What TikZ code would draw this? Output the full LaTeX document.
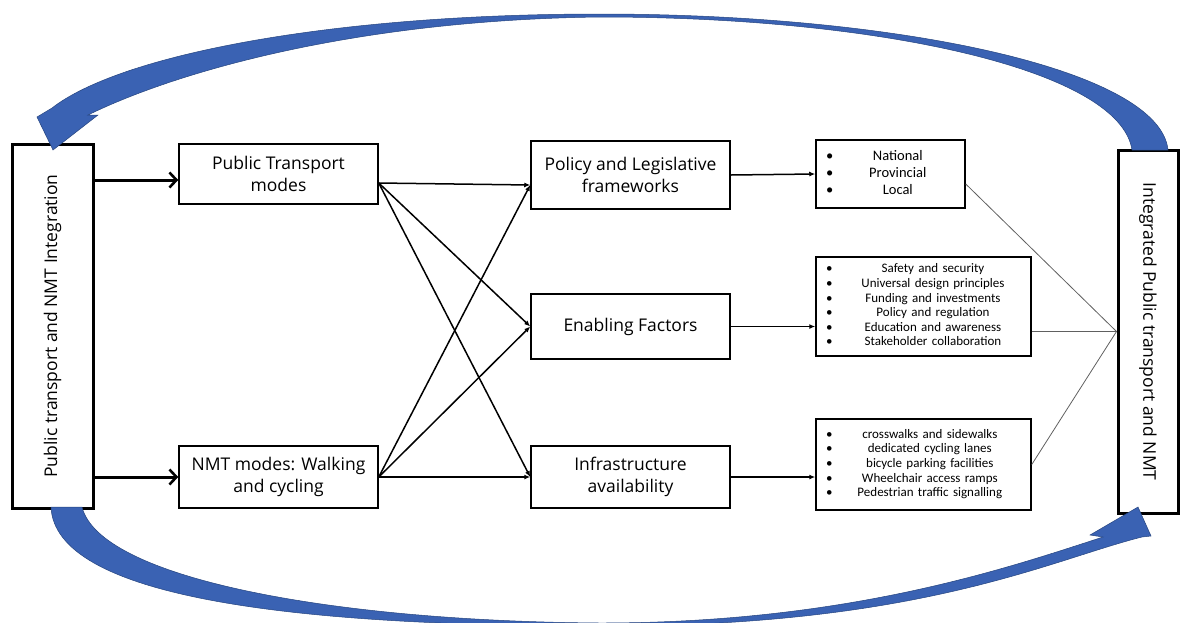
\documentclass[tikz,border=0pt]{standalone}
\usepackage{fontspec}
\setmainfont{Open Sans}
\newfontfamily\listfont{Carlito}
\usetikzlibrary{arrows.meta,positioning}

\definecolor{loopblue}{HTML}{3A62B3}
\definecolor{loopedge}{HTML}{26457F}

\tikzset{
	mainbox/.style={draw, line width=1.5pt, minimum width=199pt, align=center, inner sep=2pt, font=\fontsize{17.5}{22}\selectfont},
	sidebox/.style={draw, line width=3pt, inner sep=0pt, font=\fontsize{17.5}{20}\selectfont},
	listbox/.style={draw, line width=1.5pt, inner xsep=10pt, inner ysep=0pt, align=left, font=\listfont\fontsize{13}{14.6}\selectfont},
	bigarrow/.style={line width=3pt, -{Straight Barb[length=7pt,width=15pt,line width=2.6pt]}},
	link/.style={line width=1.5pt, -{Latex[length=6pt,width=5pt]}},
	feed/.style={draw=gray!75!black, line width=0.8pt},
	curvearrow/.style={fill=loopblue, draw=loopedge, line width=0.5pt},
}

\begin{document}
\begin{tikzpicture}[x=1pt, y=-1pt]
		\useasboundingbox (0,0) rectangle (1180,622);
		% outer boxes
		\node[sidebox, minimum width=81pt, minimum height=364pt] (intl) at (52.5,326) {\rotatebox{90}{Public transport and NMT Integration}};
		\node[sidebox, minimum width=60pt, minimum height=363pt] (intr) at (1148,331.5) {\rotatebox{-90}{Integrated Public transport and NMT}};
		% modes
		\node[mainbox, minimum height=60pt] (pt) at (278.5,174) {Public Transport\\modes};
		\node[mainbox, minimum height=62pt] (nmt) at (278.5,477) {NMT modes: Walking\\and cycling};
		% factors
		\node[mainbox, minimum height=68pt] (policy) at (630.5,175) {Policy and Legislative\\frameworks};
		\node[mainbox, minimum height=65pt] (enabling) at (630.5,326.5) {Enabling Factors};
		\node[mainbox, minimum height=62pt] (infra) at (630.5,477) {Infrastructure\\availability};
		% lists
		\node[listbox, text width=129pt, minimum height=68pt, font=\listfont\fontsize{14.5}{17}\selectfont] (levels) at (890.5,174) {\begin{tabular}{@{}l@{\hspace{36pt}}c@{}}
				\textbullet & National\\
				\textbullet & Provincial\\
				\textbullet & Local
			\end{tabular}};
		\node[listbox, text width=195pt, minimum height=99pt] (safety) at (923.5,306.5) {\begin{tabular}{@{}l@{\hspace{29pt}}c@{}}
				\textbullet & Safety and security\\
				\textbullet & Universal design principles\\
				\textbullet & Funding and investments\\
				\textbullet & Policy and regulation\\
				\textbullet & Education and awareness\\
				\textbullet & Stakeholder collaboration
			\end{tabular}};
		\node[listbox, text width=195pt, minimum height=91pt] (walks) at (923.5,464.5) {\begin{tabular}{@{}l@{\hspace{25pt}}c@{}}
				\textbullet & crosswalks and sidewalks\\
				\textbullet & dedicated cycling lanes\\
				\textbullet & bicycle parking facilities\\
				\textbullet & Wheelchair access ramps\\
				\textbullet & Pedestrian traffic signalling
			\end{tabular}};
		% entry points
		\coordinate (ptin) at ([yshift=-6pt]pt.west);
		\coordinate (ptout) at ([yshift=-9pt]pt.east);
		\coordinate (polin) at ([yshift=-10pt]policy.west);
		\coordinate (levout) at ([yshift=-10pt]levels.east);
		% thick arrows
		\draw[bigarrow] (intl.east |- ptin) -- (ptin);
		\draw[bigarrow] (intl.east |- nmt.west) -- (nmt.west);
		% modes to factors
		\draw[link] (ptout) -- (polin);
		\draw[link] (ptout) -- (enabling.west);
		\draw[link] (ptout) -- (infra.west);
		\draw[link] (nmt.east) -- (polin);
		\draw[link] (nmt.east) -- (enabling.west);
		\draw[link] (nmt.east) -- (infra.west);
		% factors to lists
		\draw[link] (policy.east) -- (levels.west);
		\draw[link] (enabling.east) -- (enabling.east -| safety.west);
		\draw[link] (infra.east) -- (infra.east -| walks.west);
		% lists to result
		\draw[feed] (levout) -- (intr.west);
		\draw[feed] (safety.east |- intr.west) -- (intr.west);
		\draw[feed] (walks.east) -- (intr.west);
		% curved arrows
		\filldraw[curvearrow] (1132,150) .. controls (1120,70) and (880,17) .. (600,17)
			.. controls (360,20) and (180,70) .. (88,115)
			-- (98,115) -- (53,150) -- (37,117) -- (52,108)
			.. controls (120,55) and (330,14) .. (600,14)
			.. controls (900,14) and (1160,70) .. (1168,150) -- cycle;
		\filldraw[curvearrow] (51,507) .. controls (55,595) and (280,626) .. (600,626)
			.. controls (920,627) and (1050,560) .. (1142,537)
			-- (1151,536) -- (1138,507) -- (1090,535) -- (1103,537)
			.. controls (1010,567) and (850,623) .. (600,623)
			.. controls (330,621) and (100,578) .. (82,507) -- cycle;
	\end{tikzpicture}
\end{document}
